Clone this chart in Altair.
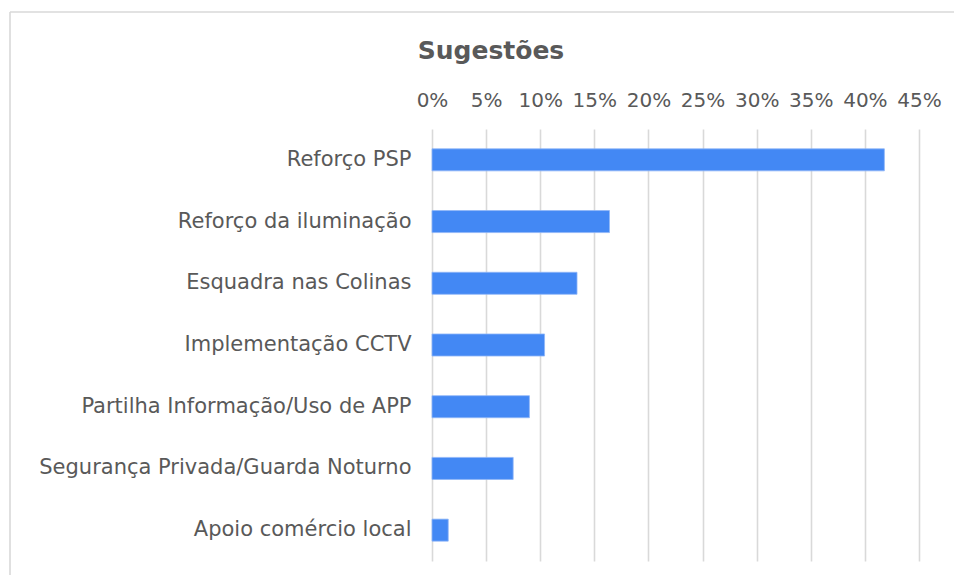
import altair as alt
import pandas as pd

categories = [
    "Reforço PSP",
    "Reforço da iluminação",
    "Esquadra nas Colinas",
    "Implementação CCTV",
    "Partilha Informação/Uso de APP",
    "Segurança Privada/Guarda Noturno",
    "Apoio comércio local",
]
values = [0.418, 0.164, 0.134, 0.104, 0.090, 0.075, 0.015]
x_ticks = [0, 0.05, 0.10, 0.15, 0.20, 0.25, 0.30, 0.35, 0.40, 0.45]
title_text = "Sugestões"

df = pd.DataFrame({"cat": categories, "val": values})

TEXT = "#595959"
GRID = "#d9d9d9"
FONT = "DejaVu Sans"

bars = alt.Chart(df).mark_bar(color="#4388F4", stroke="#8fb6f7", strokeWidth=0.8).encode(
    x=alt.X(
        "val:Q",
        scale=alt.Scale(domain=[0, 0.45], nice=False),
        axis=alt.Axis(
            orient="top",
            values=x_ticks,
            format=".0%",
            title=None,
            grid=True,
            gridColor=GRID,
            gridWidth=1.6,
            domain=False,
            ticks=False,
            labelFont=FONT,
            labelFontSize=20,
            labelColor=TEXT,
            labelPadding=19,
            labelOverlap=False,
            labelFlush=False,
        ),
    ),
    y=alt.Y(
        "cat:N",
        sort=categories,
        scale=alt.Scale(paddingInner=0.643, paddingOuter=0.3215),
        axis=alt.Axis(
            title=None,
            domain=False,
            ticks=False,
            grid=False,
            labelFont=FONT,
            labelFontSize=21,
            labelColor=TEXT,
            labelPadding=21,
            labelLimit=500,
        ),
    ),
)

one = pd.DataFrame({"a": [0]})
frame_top = alt.Chart(one).mark_rule(stroke=GRID, strokeWidth=1.6).encode(
    x=alt.value(-422),
    x2=alt.value(522),
    y=alt.value(-117),
)
frame_left = alt.Chart(one).mark_rule(stroke=GRID, strokeWidth=1.6).encode(
    x=alt.value(-422),
    y=alt.value(-117),
    y2=alt.value(446),
)

title = alt.Chart(pd.DataFrame({"t": [title_text]})).mark_text(
    font=FONT, fontSize=25, fontWeight="bold", color=TEXT,
    align="center", baseline="alphabetic",
).encode(
    text="t:N",
    x=alt.value(59),
    y=alt.value(-70),
)

chart = alt.layer(frame_top, frame_left, bars, title).properties(
    width=487,
    height=432,
    autosize=alt.AutoSizeParams(type="none"),
    padding={"left": 424, "top": 121, "right": 35, "bottom": 14},
).configure(background="white").configure_view(stroke=None)

chart.save("out.html", embed_options={"renderer": "svg", "actions": False})
